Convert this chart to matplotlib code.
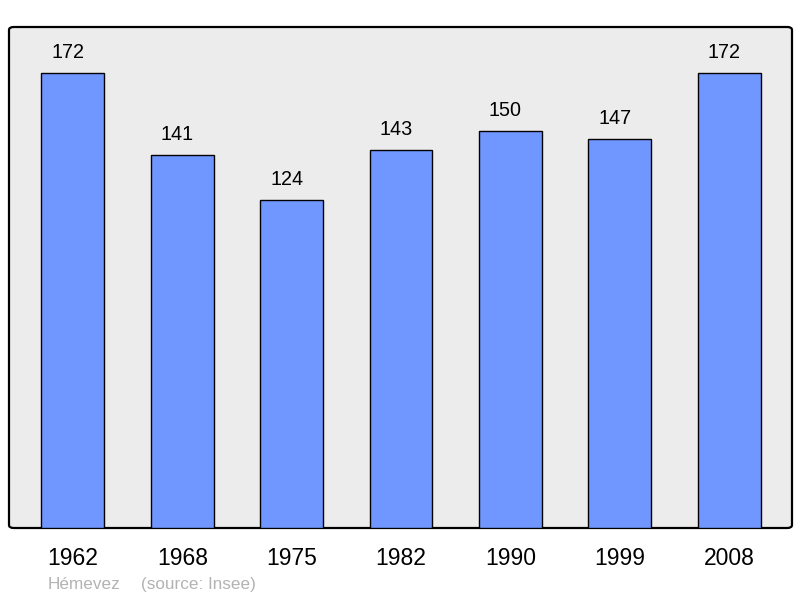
import matplotlib.pyplot as plt
from matplotlib.patches import FancyBboxPatch

plt.rcParams['font.family'] = ['Liberation Sans', 'DejaVu Sans']

years = ['1962', '1968', '1975', '1982', '1990', '1999', '2008']
population = [172, 141, 124, 143, 150, 147, 172]
commune = 'Hémevez'
source = '(source: Insee)'

fig = plt.figure(figsize=(8, 5.98), dpi=100)
ax = fig.add_axes([9/800, 70/598, 783/800, 501/598])
ax.set_facecolor('none')

# rounded gray frame
frame = FancyBboxPatch((0, 0), 1, 1, boxstyle='round,pad=0,rounding_size=0.006',
                       transform=ax.transAxes, facecolor='#ececec',
                       edgecolor='black', linewidth=1.6, zorder=0, clip_on=False)
ax.add_patch(frame)

xs = range(len(years))
ax.bar(xs, population, width=0.576, color='#7096ff', edgecolor='black',
       linewidth=1.0, zorder=2)

for x, v in zip(xs, population):
    ax.annotate(str(v), (x, v), xytext=(-3.6, 10.8), textcoords='offset points',
                ha='center', va='baseline', fontsize=14.2)
    ax.annotate(years[x], (x, 0), xytext=(0, -26.5), textcoords='offset points',
                ha='center', va='baseline', fontsize=16.5)

ax.set_xlim(-0.585, 6.576)
ax.set_ylim(0, 189.4)
for s in ax.spines.values():
    s.set_visible(False)
ax.set_xticks([])
ax.set_yticks([])

fig.text(48/800, 1 - 589/598, commune, color='#b3b3b3', fontsize=12.3, va='baseline')
fig.text(141/800, 1 - 589/598, source, color='#b3b3b3', fontsize=12.3, va='baseline')

fig.savefig('out.png', dpi=100)
